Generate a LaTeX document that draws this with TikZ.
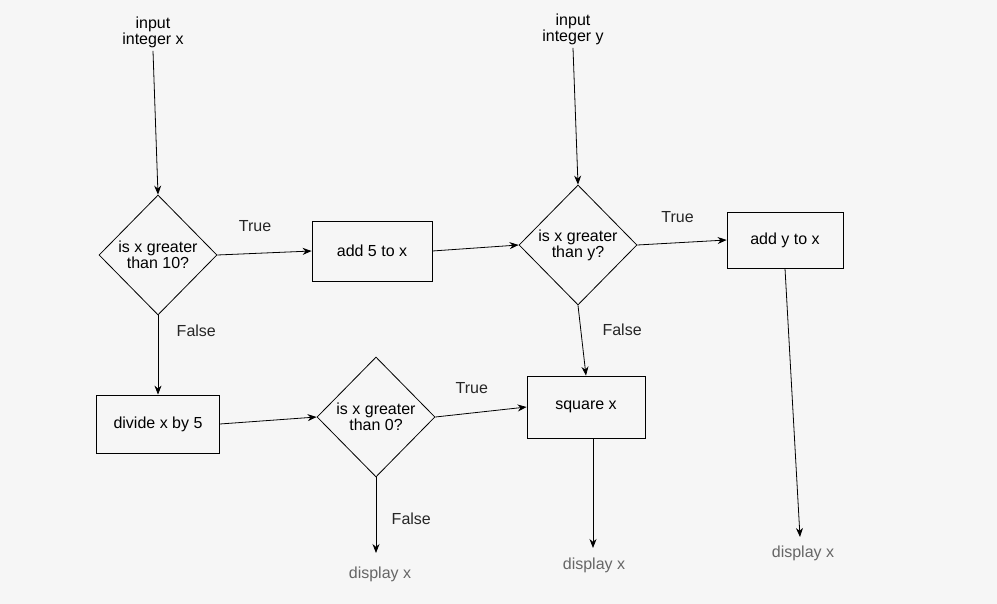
\documentclass[tikz,border=0pt]{standalone}
\usepackage{fontspec}
\setmainfont{Liberation Sans}
\usetikzlibrary{shapes.geometric,arrows.meta}
\begin{document}
\begin{tikzpicture}[x=1pt,y=-1pt,
  every node/.style={font=\fontsize{16}{16}\selectfont},
  box/.style={draw,thick,minimum width=120pt,minimum height=60pt,inner sep=0},
  dia/.style={draw,thick,diamond,minimum width=118pt,minimum height=120pt,inner sep=0},
  txt/.style={align=center},
  lbl/.style={text=black!85},
  disp/.style={text=black!60},
  arr/.style={thick,-{Stealth[length=9pt,width=7pt]}}]
\fill[white!93!gray] (0,0) rectangle (997,604);
\useasboundingbox (0,0) rectangle (997,604);
\node[txt] (ix) at (153,32) {input\\integer x};
\node[txt] (iy) at (573,29) {input\\integer y};
\node[dia] (d1) at (158,255) {};
\node[txt] at (d1) {is x greater\\than 10?};
\node[box] (b1) at (372,251) {add 5 to x};
\node[dia] (d2) at (578,245) {};
\node[txt] at (d2) {is x greater\\than y?};
\node[box,minimum width=116pt,minimum height=56pt] (b2) at (785,240) {add y to x};
\node[box,minimum width=123pt,minimum height=58pt] (b3) at (158,424) {divide x by 5};
\node[dia] (d3) at (376,417) {};
\node[txt] at (d3) {is x greater\\than 0?};
\node[box,minimum width=118pt,minimum height=62pt] (b4) at (586,407) {square x};
\node[disp] (o1) at (380,574) {display x};
\node[disp] (o2) at (594,565) {display x};
\node[disp] (o3) at (803,553) {display x};
\coordinate (e1) at (376,553);
\coordinate (e2) at (593,548);
\coordinate (e3) at (800,537);
\draw[arr] (ix.south) -- (d1.north);
\draw[arr] (iy.south) -- (d2.north);
\draw[arr] (d1.east) -- (b1.west) node[lbl,pos=0.4,above=18pt] {True};
\draw[arr] (b1.east) -- (d2.west);
\draw[arr] (d2.east) -- (b2.west) node[lbl,pos=0.45,above=16pt] {True};
\draw[arr] (d1.south) -- (b3.north) node[lbl,pos=0.2,right=15pt] {False};
\draw[arr] (d2.south) -- (b4.north) node[lbl,pos=0.35,right=18pt] {False};
\draw[arr] (b3.east) -- (d3.west);
\draw[arr] (d3.east) -- (b4.west) node[lbl,pos=0.4,above=16pt] {True};
\draw[arr] (d3.south) -- (e1) node[lbl,pos=0.55,right=12pt] {False};
\draw[arr] (b4.south -| e2) -- (e2);
\draw[arr] (b2.south) -- (e3);
\end{tikzpicture}
\end{document}
